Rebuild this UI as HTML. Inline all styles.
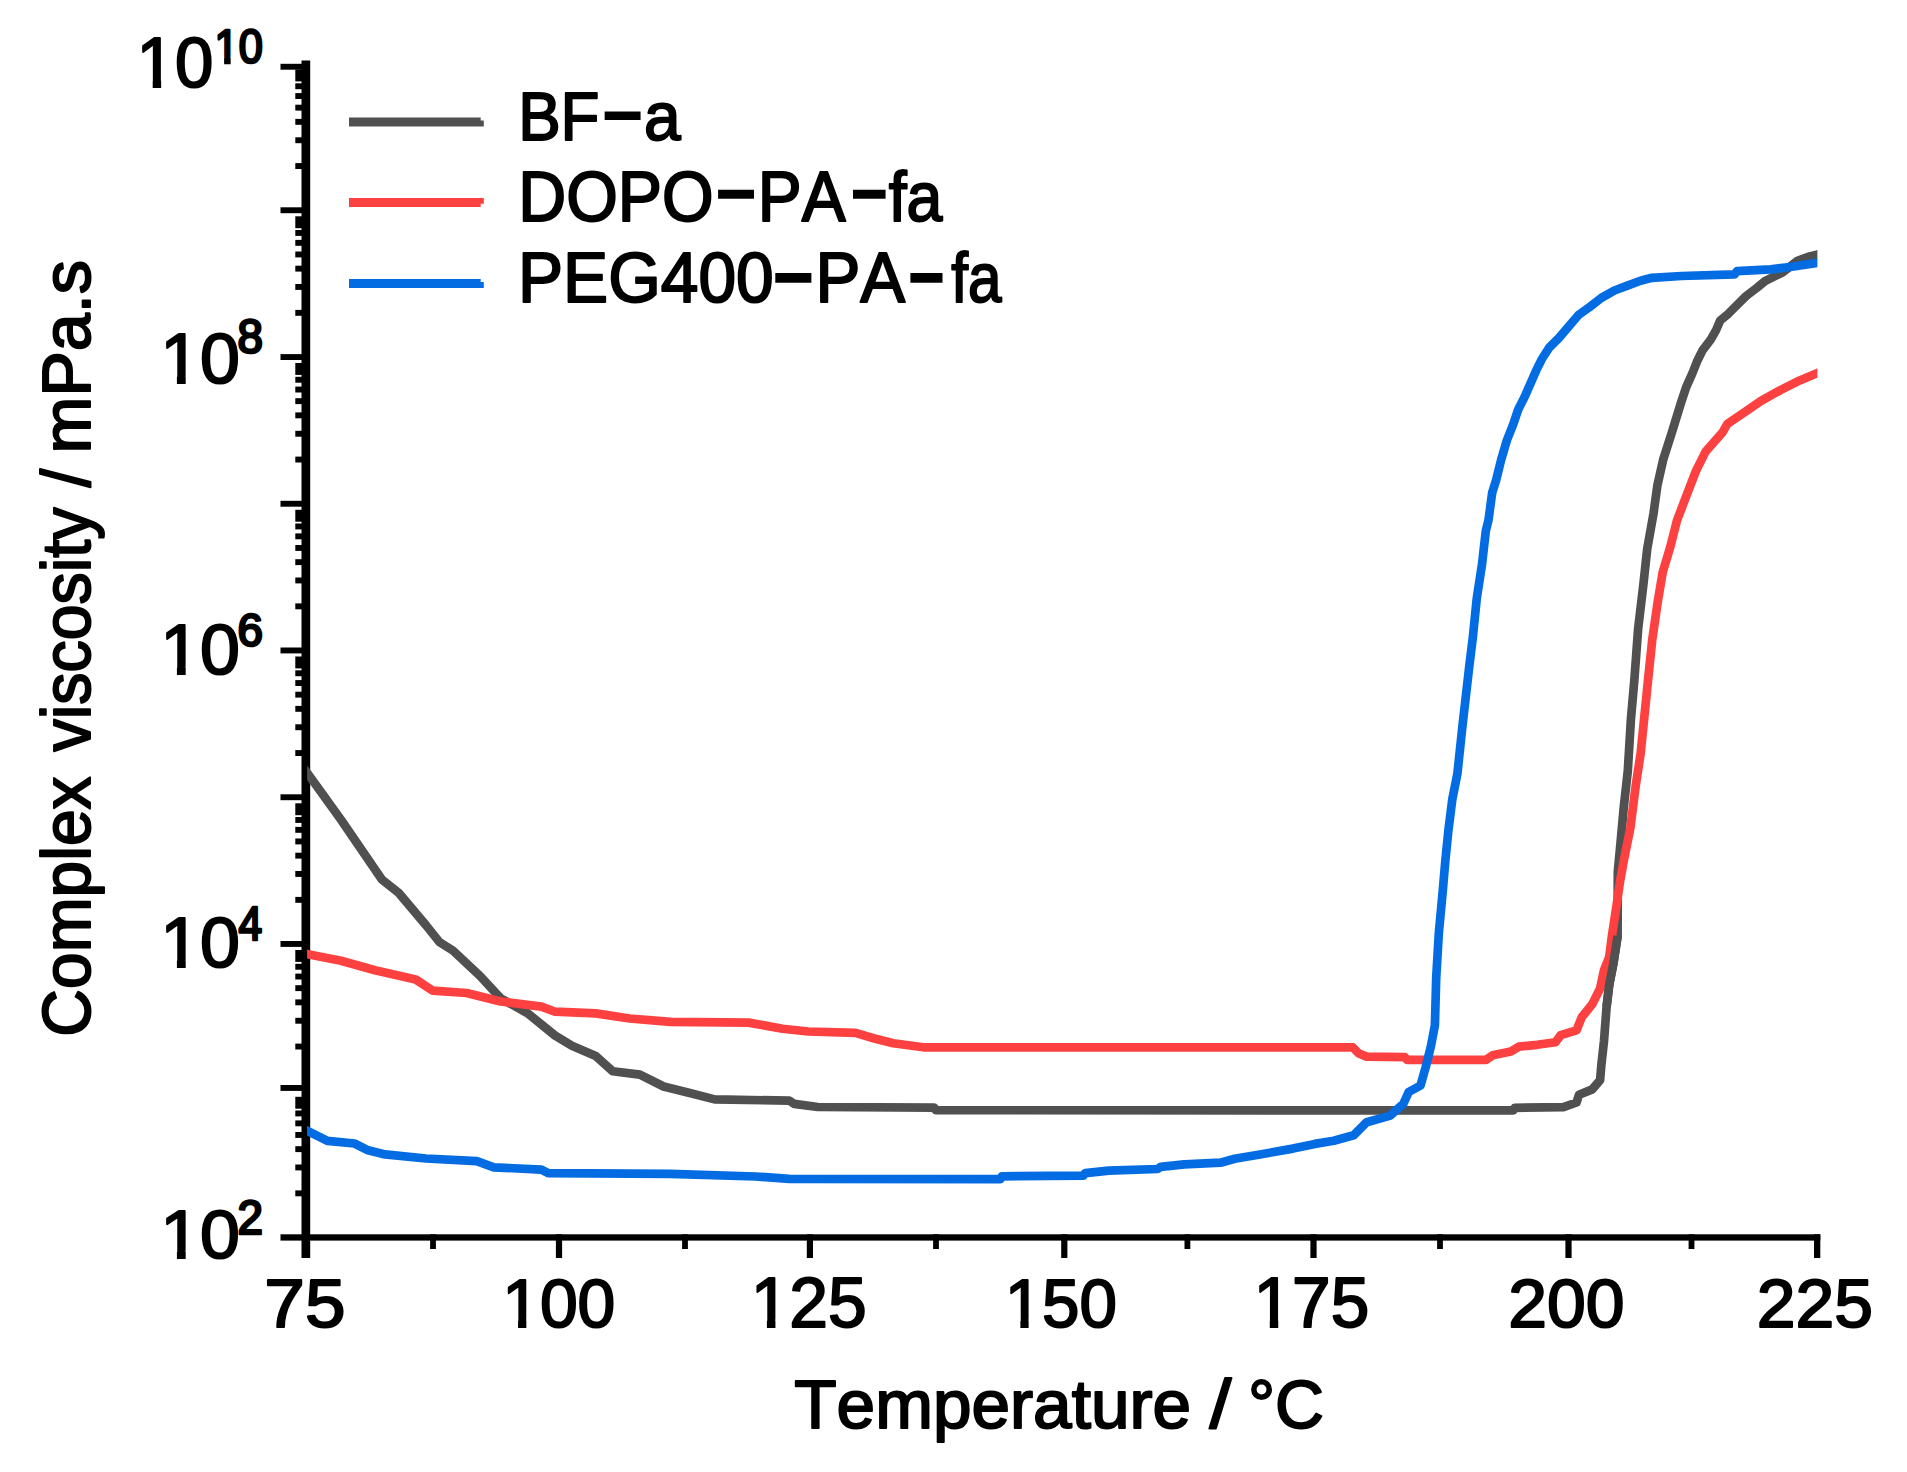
<!DOCTYPE html>
<html><head><meta charset="utf-8"><title>Complex viscosity vs temperature</title>
<style>html,body{margin:0;padding:0;background:#fff}svg{display:block}text{font-family:"Liberation Sans",Arial,Helvetica,sans-serif;fill:#000;font-kerning:none}</style></head><body>
<svg width="1907" height="1472" viewBox="0 0 1907 1472">
<rect width="1907" height="1472" fill="#fff"/>
<g fill="#000">
<rect x="301.5" y="60.5" width="8.7" height="1197.5"/>
<rect x="280.5" y="1234.3" width="1539.8" height="6.3"/>
<rect x="295.3" y="1190.4" width="7.2" height="5.9"/>
<rect x="295.3" y="1164.5" width="7.2" height="5.9"/>
<rect x="295.3" y="1146.2" width="7.2" height="5.9"/>
<rect x="295.3" y="1132.0" width="7.2" height="5.9"/>
<rect x="295.3" y="1120.4" width="7.2" height="5.9"/>
<rect x="295.3" y="1110.5" width="7.2" height="5.9"/>
<rect x="295.3" y="1096.8" width="7.2" height="11.9"/>
<rect x="280.5" y="1085.0" width="22.0" height="5.9"/>
<rect x="295.3" y="1043.6" width="7.2" height="5.9"/>
<rect x="295.3" y="1017.8" width="7.2" height="5.9"/>
<rect x="295.3" y="999.4" width="7.2" height="5.9"/>
<rect x="295.3" y="985.2" width="7.2" height="5.9"/>
<rect x="295.3" y="973.6" width="7.2" height="5.9"/>
<rect x="295.3" y="963.8" width="7.2" height="5.9"/>
<rect x="295.3" y="950.0" width="7.2" height="11.9"/>
<rect x="280.5" y="941.0" width="22.0" height="5.9"/>
<rect x="295.3" y="896.9" width="7.2" height="5.9"/>
<rect x="295.3" y="871.0" width="7.2" height="5.9"/>
<rect x="295.3" y="852.7" width="7.2" height="5.9"/>
<rect x="295.3" y="838.5" width="7.2" height="5.9"/>
<rect x="295.3" y="826.9" width="7.2" height="5.9"/>
<rect x="295.3" y="817.0" width="7.2" height="5.9"/>
<rect x="295.3" y="803.3" width="7.2" height="11.9"/>
<rect x="280.5" y="794.3" width="22.0" height="5.9"/>
<rect x="295.3" y="750.1" width="7.2" height="5.9"/>
<rect x="295.3" y="724.3" width="7.2" height="5.9"/>
<rect x="295.3" y="705.9" width="7.2" height="5.9"/>
<rect x="295.3" y="691.7" width="7.2" height="5.9"/>
<rect x="295.3" y="680.1" width="7.2" height="5.9"/>
<rect x="295.3" y="670.3" width="7.2" height="5.9"/>
<rect x="295.3" y="656.5" width="7.2" height="11.9"/>
<rect x="280.5" y="647.5" width="22.0" height="5.9"/>
<rect x="295.3" y="603.4" width="7.2" height="5.9"/>
<rect x="295.3" y="577.5" width="7.2" height="5.9"/>
<rect x="295.3" y="559.2" width="7.2" height="5.9"/>
<rect x="295.3" y="545.0" width="7.2" height="5.9"/>
<rect x="295.3" y="533.4" width="7.2" height="5.9"/>
<rect x="295.3" y="523.5" width="7.2" height="5.9"/>
<rect x="295.3" y="509.8" width="7.2" height="11.9"/>
<rect x="280.5" y="500.8" width="22.0" height="5.9"/>
<rect x="295.3" y="456.6" width="7.2" height="5.9"/>
<rect x="295.3" y="430.8" width="7.2" height="5.9"/>
<rect x="295.3" y="412.4" width="7.2" height="5.9"/>
<rect x="295.3" y="398.2" width="7.2" height="5.9"/>
<rect x="295.3" y="386.6" width="7.2" height="5.9"/>
<rect x="295.3" y="376.8" width="7.2" height="5.9"/>
<rect x="295.3" y="363.0" width="7.2" height="11.9"/>
<rect x="280.5" y="354.1" width="22.0" height="5.9"/>
<rect x="295.3" y="309.9" width="7.2" height="5.9"/>
<rect x="295.3" y="284.0" width="7.2" height="5.9"/>
<rect x="295.3" y="265.7" width="7.2" height="5.9"/>
<rect x="295.3" y="251.5" width="7.2" height="5.9"/>
<rect x="295.3" y="239.9" width="7.2" height="5.9"/>
<rect x="295.3" y="230.0" width="7.2" height="5.9"/>
<rect x="295.3" y="216.3" width="7.2" height="11.9"/>
<rect x="280.5" y="207.3" width="22.0" height="5.9"/>
<rect x="295.3" y="163.1" width="7.2" height="5.9"/>
<rect x="295.3" y="137.3" width="7.2" height="5.9"/>
<rect x="295.3" y="118.9" width="7.2" height="5.9"/>
<rect x="295.3" y="104.7" width="7.2" height="5.9"/>
<rect x="295.3" y="93.1" width="7.2" height="5.9"/>
<rect x="295.3" y="83.3" width="7.2" height="5.9"/>
<rect x="295.3" y="69.5" width="7.2" height="11.9"/>
<rect x="280.5" y="63.8" width="22.0" height="5.9"/>
<rect x="555.9" y="1234.3" width="6.2" height="23.7"/>
<rect x="806.8" y="1234.3" width="6.2" height="23.7"/>
<rect x="1061.2" y="1234.3" width="6.2" height="23.7"/>
<rect x="1310.4" y="1234.3" width="6.2" height="23.7"/>
<rect x="1565.4" y="1234.3" width="6.2" height="23.7"/>
<rect x="1814.0" y="1234.3" width="6.3" height="23.7"/>
<rect x="430.1" y="1234.3" width="5.8" height="14.7"/>
<rect x="682.1" y="1234.3" width="5.8" height="14.7"/>
<rect x="933.1" y="1234.3" width="5.8" height="14.7"/>
<rect x="1184.5" y="1234.3" width="5.8" height="14.7"/>
<rect x="1437.1" y="1234.3" width="5.8" height="14.7"/>
<rect x="1688.6" y="1234.3" width="5.8" height="14.7"/>
</g>
<defs><clipPath id="pc"><rect x="307.1" y="60" width="1510.3" height="1180"/></clipPath></defs>
<g fill="none" stroke-width="8.7" stroke-linejoin="round" stroke-linecap="butt" clip-path="url(#pc)">
<polyline stroke="#505050" points="304.0,768.5 310.4,777.4 341.0,819.8 381.7,879.3 398.7,892.9 425.9,925.1 439.5,942.1 453.0,950.6 480.2,976.1 500.6,998.2 527.8,1013.4 555.0,1035.5 571.9,1045.7 595.7,1055.9 612.7,1071.2 639.9,1074.6 663.6,1086.5 690.8,1093.3 714.6,1099.4 789.3,1100.7 794.2,1103.9 817.8,1107.0 934.2,1107.7 935.8,1110.2 1513.5,1110.4 1514.8,1107.8 1563.4,1107.2 1576.5,1102.5 1579.1,1094.7 1592.2,1089.4 1600.1,1080.2 1601.4,1064.5 1604.0,1040.9 1606.6,1006.8 1609.2,985.0 1613.3,964.0 1617.6,936.0 1617.8,872.0 1620.8,840.0 1623.8,807.0 1627.8,771.0 1630.9,719.4 1634.3,680.7 1638.1,629.1 1643.3,585.2 1647.2,549.0 1653.6,512.9 1657.4,485.3 1663.4,458.8 1671.9,432.3 1680.8,403.4 1686.2,387.1 1692.3,373.5 1697.1,361.3 1702.5,350.4 1710.7,339.6 1716.1,330.1 1720.2,320.5 1728.3,313.8 1737.8,304.2 1746.0,296.1 1756.8,287.9 1765.0,281.1 1775.9,275.7 1782.7,272.3 1797.6,260.8 1808.5,256.7 1817.0,254.6 1825.0,252.5"/>
<polyline stroke="#fd4040" points="304.0,953.4 310.4,954.7 341.0,960.8 375.0,970.3 415.7,979.5 432.7,990.7 466.6,993.0 500.6,1001.5 541.4,1006.6 555.0,1011.7 595.7,1013.4 629.7,1018.5 670.4,1021.9 748.6,1022.6 782.5,1028.7 808.3,1031.5 855.5,1032.8 874.4,1038.5 893.3,1043.2 923.2,1047.3 1352.7,1047.3 1358.8,1053.5 1366.7,1056.6 1404.7,1057.2 1407.3,1059.8 1486.0,1059.8 1492.6,1055.3 1510.9,1051.4 1518.8,1046.7 1537.1,1044.8 1555.5,1042.2 1560.7,1035.1 1576.5,1030.4 1581.7,1017.3 1592.2,1004.2 1600.1,988.5 1604.0,970.1 1609.2,957.0 1611.9,936.0 1616.3,907.2 1619.7,883.6 1623.9,860.0 1630.4,827.8 1635.6,786.5 1640.7,753.0 1644.6,714.2 1648.5,675.5 1652.3,639.4 1657.5,603.3 1662.7,572.3 1670.4,546.5 1676.9,520.7 1687.6,492.6 1696.0,470.9 1705.6,451.6 1722.5,432.3 1727.4,423.8 1741.8,414.2 1761.1,400.9 1780.4,390.1 1799.7,380.4 1817.0,373.2 1825.0,370.0"/>
<polyline stroke="#505050" points="1606.6,1006.8 1609.2,985.0 1613.3,964.0 1617.6,936.0"/>
<polyline stroke="#036ce2" points="304.0,1129.0 310.4,1132.3 327.4,1140.8 354.5,1143.5 368.1,1150.3 385.1,1154.4 425.9,1158.5 476.8,1161.2 493.8,1167.3 541.4,1169.7 548.2,1173.1 670.4,1173.8 755.4,1176.5 789.3,1178.9 1000.3,1179.1 1001.8,1176.3 1083.7,1175.6 1085.2,1173.1 1108.8,1170.6 1157.6,1169.0 1160.7,1166.8 1184.3,1164.3 1220.5,1162.7 1234.7,1158.7 1261.4,1154.2 1292.9,1148.6 1314.9,1143.9 1333.8,1140.7 1353.6,1135.3 1366.7,1122.2 1390.3,1115.6 1403.4,1103.8 1408.7,1092.0 1420.5,1085.5 1425.7,1067.1 1430.9,1046.2 1434.9,1025.2 1436.2,978.0 1438.8,933.4 1442.7,891.5 1445.4,860.0 1448.4,830.4 1452.3,799.4 1457.4,773.6 1462.6,724.6 1469.1,667.8 1472.9,636.8 1476.8,598.1 1482.0,564.5 1485.8,531.0 1488.5,520.0 1492.2,492.6 1496.2,479.9 1501.1,460.0 1506.8,440.5 1513.3,424.2 1518.2,409.5 1524.8,396.5 1530.5,383.4 1536.2,370.4 1541.9,359.0 1549.2,347.6 1559.0,337.8 1568.8,326.4 1578.5,315.0 1590.0,306.8 1601.4,297.9 1614.4,290.5 1627.4,285.6 1640.5,280.7 1651.9,277.8 1681.5,276.0 1734.6,274.3 1737.0,271.1 1770.8,269.4 1790.1,267.0 1817.0,262.9 1825.0,261.7"/>
</g>
<g stroke="#000" stroke-linejoin="round">
<g transform="translate(264.37,1326.61) scale(1.0425,0.9922)"><text font-size="70" stroke-width="2.0">75</text></g>
<g transform="translate(502.19,1326.61) scale(0.9688,0.9922)"><text font-size="70" stroke-width="2.0">100</text><rect x="1.05" y="-7.08" width="15.31" height="9.29" fill="#fff" stroke="none"/><rect x="24.94" y="-7.08" width="14.61" height="9.29" fill="#fff" stroke="none"/></g>
<g transform="translate(750.63,1326.61) scale(0.9945,0.9922)"><text font-size="70" stroke-width="2.0">125</text><rect x="1.05" y="-7.08" width="15.31" height="9.29" fill="#fff" stroke="none"/><rect x="24.94" y="-7.08" width="14.61" height="9.29" fill="#fff" stroke="none"/></g>
<g transform="translate(1004.63,1326.61) scale(0.9624,0.9922)"><text font-size="70" stroke-width="2.0">150</text><rect x="1.05" y="-7.08" width="15.31" height="9.29" fill="#fff" stroke="none"/><rect x="24.94" y="-7.08" width="14.61" height="9.29" fill="#fff" stroke="none"/></g>
<g transform="translate(1253.56,1326.61) scale(0.9908,0.9922)"><text font-size="70" stroke-width="2.0">175</text><rect x="1.05" y="-7.08" width="15.31" height="9.29" fill="#fff" stroke="none"/><rect x="24.94" y="-7.08" width="14.61" height="9.29" fill="#fff" stroke="none"/></g>
<g transform="translate(1508.31,1326.61) scale(0.9955,0.9922)"><text font-size="70" stroke-width="2.0">200</text></g>
<g transform="translate(1756.71,1326.61) scale(0.9955,0.9922)"><text font-size="70" stroke-width="2.0">225</text></g>
<g transform="translate(794.21,1427.71) scale(0.9907,0.9863)"><text font-size="70" stroke-width="2.0">Temperature</text></g>
<g transform="translate(1209.52,1427.71) scale(1.1238,0.9863)"><text font-size="70" stroke-width="2.0">/</text></g>
<g transform="translate(1247.99,1427.71) scale(0.9689,0.9863)"><text font-size="70" stroke-width="2.0">°C</text></g>
<g transform="translate(518.15,140.11) scale(0.9096,0.9863)"><text font-size="70" stroke-width="2.0">BF</text></g>
<g transform="translate(600.93,156.42) scale(1.0559,1.7200)"><text font-size="70" stroke-width="0">−</text></g>
<g transform="translate(644.12,140.11) scale(0.9421,0.9863)"><text font-size="70" stroke-width="2.0">a</text></g>
<g transform="translate(518.26,221.30) scale(0.9482,0.9980)"><text font-size="70" stroke-width="2.0">DOPO</text></g>
<g transform="translate(714.43,235.60) scale(1.0559,1.8000)"><text font-size="70" stroke-width="0">−</text></g>
<g transform="translate(757.80,221.30) scale(0.9404,0.9980)"><text font-size="70" stroke-width="2.0">PA</text></g>
<g transform="translate(849.72,235.60) scale(0.9588,1.8000)"><text font-size="70" stroke-width="0">−</text></g>
<g transform="translate(888.70,221.30) scale(0.9203,0.9980)"><text font-size="70" stroke-width="2.0">fa</text></g>
<g transform="translate(517.97,301.81) scale(0.9663,0.9941)"><text font-size="70" stroke-width="2.0">PEG400</text></g>
<g transform="translate(771.61,323.04) scale(1.0618,1.9400)"><text font-size="70" stroke-width="0">−</text></g>
<g transform="translate(815.39,301.81) scale(0.9618,0.9941)"><text font-size="70" stroke-width="2.0">PA</text></g>
<g transform="translate(906.97,323.04) scale(0.9441,1.9400)"><text font-size="70" stroke-width="0">−</text></g>
<g transform="translate(951.30,301.81) scale(0.8610,0.9941)"><text font-size="70" stroke-width="2.0">fa</text></g>
<g transform="translate(136.59,86.61) scale(0.9843,0.9941)"><text font-size="70" stroke-width="2.0">10</text><rect x="1.05" y="-7.08" width="15.31" height="9.29" fill="#fff" stroke="none"/><rect x="24.94" y="-7.08" width="14.61" height="9.29" fill="#fff" stroke="none"/></g>
<g transform="translate(214.60,62.66) scale(0.8673,0.9447)"><text font-size="50" stroke-width="2.8">10</text><rect x="0.75" y="-5.97" width="10.22" height="8.57" fill="#fff" stroke="none"/><rect x="18.53" y="-5.97" width="9.72" height="8.57" fill="#fff" stroke="none"/></g>
<g transform="translate(160.15,382.80) scale(1.0243,0.9961)"><text font-size="70" stroke-width="2.0">10</text><rect x="1.05" y="-7.08" width="15.31" height="9.29" fill="#fff" stroke="none"/><rect x="24.94" y="-7.08" width="14.61" height="9.29" fill="#fff" stroke="none"/></g>
<g transform="translate(237.58,352.86) scale(0.9154,0.9447)"><text font-size="50" stroke-width="2.8">8</text></g>
<g transform="translate(160.15,673.50) scale(1.0243,1.0000)"><text font-size="70" stroke-width="2.0">10</text><rect x="1.05" y="-7.08" width="15.31" height="9.29" fill="#fff" stroke="none"/><rect x="24.94" y="-7.08" width="14.61" height="9.29" fill="#fff" stroke="none"/></g>
<g transform="translate(237.58,646.48) scale(0.9154,0.9184)"><text font-size="50" stroke-width="2.8">6</text></g>
<g transform="translate(160.15,966.81) scale(1.0243,0.9941)"><text font-size="70" stroke-width="2.0">10</text><rect x="1.05" y="-7.08" width="15.31" height="9.29" fill="#fff" stroke="none"/><rect x="24.94" y="-7.08" width="14.61" height="9.29" fill="#fff" stroke="none"/></g>
<g transform="translate(238.50,939.93) scale(0.8500,0.9703)"><text font-size="50" stroke-width="2.8">4</text></g>
<g transform="translate(160.15,1257.52) scale(1.0243,0.9804)"><text font-size="70" stroke-width="2.0">10</text><rect x="1.05" y="-7.08" width="15.31" height="9.29" fill="#fff" stroke="none"/><rect x="24.94" y="-7.08" width="14.61" height="9.29" fill="#fff" stroke="none"/></g>
<g transform="translate(237.58,1233.66) scale(0.9154,0.9447)"><text font-size="50" stroke-width="2.8">2</text></g>
<g transform="translate(90.32,1036.63) rotate(-90) scale(0.9421,0.9784)"><text font-size="70" stroke-width="2.0">Complex</text></g>
<g transform="translate(90.32,751.48) rotate(-90) scale(0.9222,0.9784)"><text font-size="70" stroke-width="2.0">viscosity</text></g>
<g transform="translate(90.32,487.15) rotate(-90) scale(0.9476,0.9784)"><text font-size="70" stroke-width="2.0">/</text></g>
<g transform="translate(90.32,453.50) rotate(-90) scale(0.9751,0.9784)"><text font-size="70" stroke-width="2.0">mPa.s</text></g>
</g>
<path fill="#505050" d="M349 117.6H480.7V120.6H483.8V126.5H349Z"/>
<path fill="#fd4040" d="M349 198.1H483.8V203.8H480.7V207.1H349Z"/>
<path fill="#036ce2" d="M349 279H480.7V281.9H483.8V287.9H349Z"/>
</svg></body></html>
